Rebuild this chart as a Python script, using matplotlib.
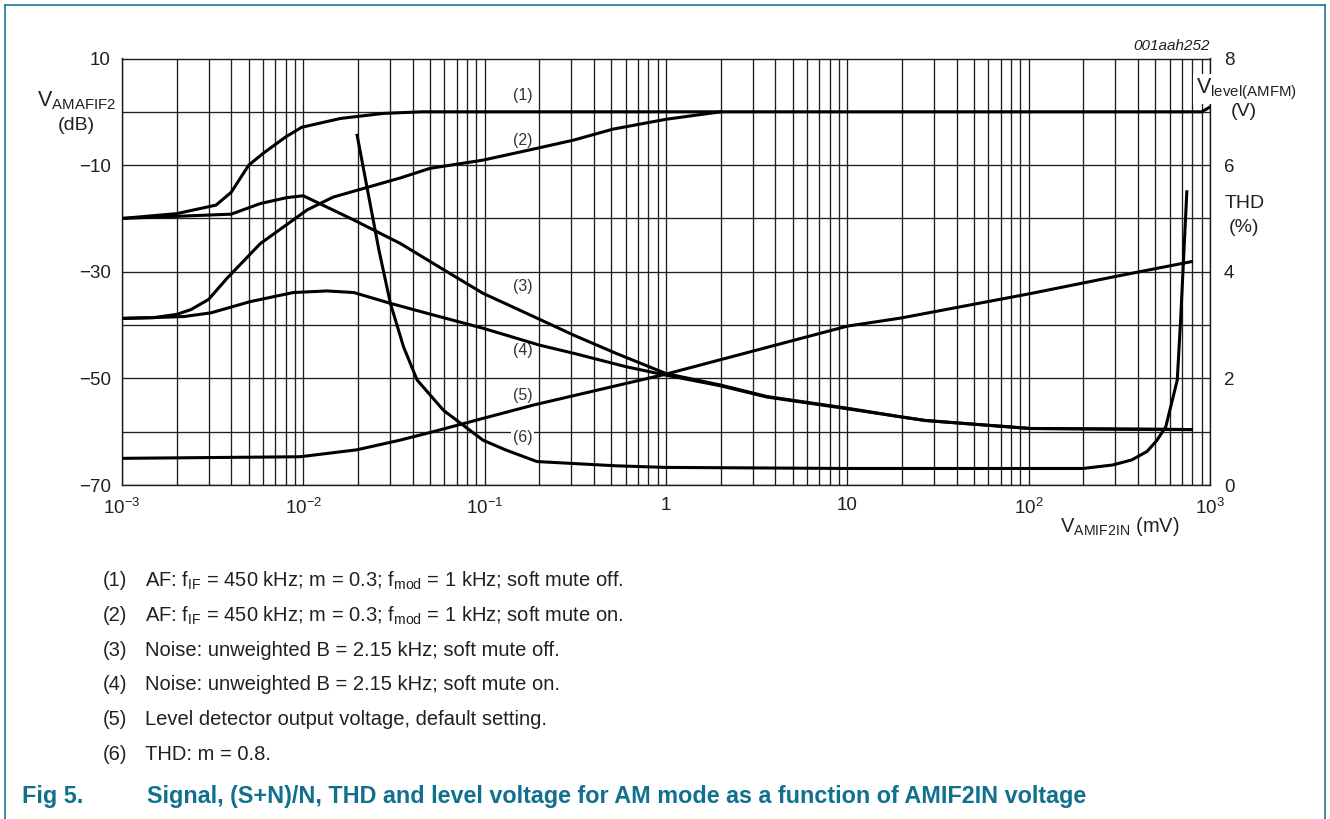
import matplotlib
matplotlib.use('Agg')
import matplotlib.pyplot as plt
from matplotlib.lines import Line2D
import numpy as np

plt.rcParams['font.family'] = ['Liberation Sans', 'DejaVu Sans']
plt.rcParams['mathtext.fontset'] = 'custom'
plt.rcParams['mathtext.rm'] = 'Liberation Sans'
plt.rcParams['mathtext.it'] = 'Liberation Sans:italic'
plt.rcParams['mathtext.bf'] = 'Liberation Sans:bold'

# ---------------- data ----------------
# (1) AF, soft mute off  [dB]
x1 = [0.001, 0.002, 0.0033, 0.004, 0.005, 0.006, 0.008, 0.0098, 0.016, 0.0276, 0.045, 0.1, 1, 10, 100, 900, 1000]
y1 = [-20, -19.1, -17.5, -15.1, -10, -7.8, -4.7, -2.9, -1.25, -0.3, 0, 0, 0, 0, 0, 0, 0.9]
# (2) AF, soft mute on  [dB]
x2 = [0.001, 0.0015, 0.002, 0.0024, 0.003, 0.0038, 0.0058, 0.0105, 0.0146, 0.0343, 0.05, 0.098, 0.2, 0.31, 0.51, 1.0, 2.0]
y2 = [-38.75, -38.6, -38.0, -37.1, -35.2, -31.2, -24.7, -18.4, -16.0, -12.4, -10.6, -9.06, -6.75, -5.3, -3.25, -1.4, 0]
# (3) Noise, soft mute off  [dB]
x3 = [0.001, 0.002, 0.004, 0.0058, 0.0081, 0.0100, 0.019, 0.0343, 0.062, 0.098, 0.186, 0.31, 0.53, 1.0, 2.0, 3.6, 10, 19.6, 26.9, 102, 790]
y3 = [-20, -19.6, -19.2, -17.2, -16.1, -15.75, -20.3, -24.7, -30.0, -34.05, -38.4, -41.9, -45.3, -49.1, -51.25, -53.4, -55.6, -57.2, -57.9, -59.4, -59.6]
# (4) Noise, soft mute on  [dB]
x4 = [0.001, 0.0015, 0.0022, 0.0031, 0.0051, 0.0088, 0.0135, 0.019, 0.03, 0.052, 0.098, 0.2, 0.31, 0.6, 1.0, 2.0, 3.6, 10, 19.6, 26.9, 102, 790]
y4 = [-38.75, -38.6, -38.4, -37.7, -35.6, -33.9, -33.6, -33.9, -35.9, -38.1, -40.6, -43.75, -45.3, -47.8, -49.4, -51.4, -53.5, -55.7, -57.2, -57.9, -59.4, -59.6]
# (5) Level detector output voltage  [V]
x5 = [0.001, 0.0096, 0.0197, 0.034, 0.052, 0.098, 0.186, 1.0, 10, 19.6, 102, 310, 790]
v5 = [0.5, 0.53, 0.66, 0.84, 1.0, 1.25, 1.5, 2.08, 2.98, 3.13, 3.59, 3.92, 4.19]
# (6) THD, m = 0.8  [%]
x6 = [0.0198, 0.0261, 0.0302, 0.0357, 0.0424, 0.0593, 0.098, 0.13, 0.194, 0.53, 1.0, 10, 199, 290, 370, 450, 510, 570, 660, 690, 745]
t6 = [6.56, 4.41, 3.41, 2.59, 1.97, 1.4, 0.84, 0.66, 0.44, 0.36, 0.33, 0.31, 0.31, 0.375, 0.47, 0.63, 0.84, 1.09, 1.97, 3.16, 5.5]

x_ticks = [1e-3, 1e-2, 1e-1, 1, 10, 1e2, 1e3]
x_ticklabels = [r'$10^{-3}$', r'$10^{-2}$', r'$10^{-1}$', '1', '10', r'$10^{2}$', r'$10^{3}$']
db_ticks = [-70, -60, -50, -40, -30, -20, -10, 0, 10]
db_ticklabels = ['\u221270', '', '\u221250', '', '\u221230', '', '\u221210', '', '10']
r_ticks = [0, 2, 4, 6, 8]
r_ticklabels = ['0', '2', '4', '6', '8']

curve_labels = ['(1)', '(2)', '(3)', '(4)', '(5)', '(6)']
curve_label_db = [3.0, -5.3, -32.7, -44.7, -53.3, -61.0]

notes = [
    r'AF: f$_{\mathrm{IF}}$ = 450 kHz; m = 0.3; f$_{\mathrm{mod}}$ = 1 kHz; soft mute off.',
    r'AF: f$_{\mathrm{IF}}$ = 450 kHz; m = 0.3; f$_{\mathrm{mod}}$ = 1 kHz; soft mute on.',
    'Noise: unweighted B = 2.15 kHz; soft mute off.',
    'Noise: unweighted B = 2.15 kHz; soft mute on.',
    'Level detector output voltage, default setting.',
    'THD: m = 0.8.',
]
title_num = 'Fig 5.'
title_txt = 'Signal, (S+N)/N, THD and level voltage for AM mode as a function of AMIF2IN voltage'

# ---------------- figure ----------------
W, H = 1330, 819
fig = plt.figure(figsize=(W / 100, H / 100), dpi=100)
TXT = '#231f20'
TEAL = '#11708e'
FS = 13.5

def fx(px):
    return px / W

def fy(py):
    return 1 - py / H

ax = fig.add_axes([fx(122), fy(485), (1210 - 122) / W, (485 - 58.5) / H])
ax.set_xscale('log')
ax.set_xlim(1e-3, 1e3)
ax.set_ylim(-70, 10)
ax.set_yticks(db_ticks)
ax.set_yticklabels(db_ticklabels)
ax.set_xticks(x_ticks)
ax.set_xticklabels(x_ticklabels)
ax.xaxis.set_minor_locator(matplotlib.ticker.LogLocator(base=10, subs=np.arange(2, 10), numticks=100))
ax.xaxis.set_minor_formatter(matplotlib.ticker.NullFormatter())
ax.grid(True, which='both', color='#1e1e1e', lw=0.95)
ax.tick_params(which='both', length=0, labelsize=FS, colors=TXT)
ax.tick_params(axis='x', pad=9)
ax.tick_params(axis='y', pad=8)
for s in ax.spines.values():
    s.set_color('#1a1a1a')
    s.set_linewidth(1.0)

lw = 2.2
ax.plot(x1, y1, color='black', lw=lw, zorder=4)
ax.plot(x2, y2, color='black', lw=lw, zorder=4)
ax.plot(x3, y3, color='black', lw=lw, zorder=4)
ax.plot(x4, y4, color='black', lw=lw, zorder=4)

ax2 = ax.twinx()
ax2.set_ylim(0, 8)
ax2.set_yticks(r_ticks)
ax2.set_yticklabels(r_ticklabels)
ax2.tick_params(length=0, labelsize=FS, colors=TXT, pad=10)
for s in ax2.spines.values():
    s.set_visible(False)
ax2.plot(x5, v5, color='black', lw=lw, zorder=4)
ax2.plot(x6, t6, color='black', lw=lw, zorder=4)

for lab, yv in zip(curve_labels, curve_label_db):
    ax.text(0.162, yv, lab, ha='center', va='center', fontsize=11.5, color='#333333', zorder=3,
            bbox=dict(facecolor='white', edgecolor='none', pad=1.0))

# axis titles
fig.text(fx(77), fy(101), r'V$_{\mathrm{AMAFIF2}}$', ha='center', va='center', fontsize=15.5, color=TXT)
fig.text(fx(76), fy(125), '(dB)', ha='center', va='center', fontsize=14, color=TXT)
fig.text(fx(1246), fy(89), r'V$_{\mathrm{level(AMFM)}}$', ha='center', va='center', fontsize=15.5, color=TXT,
         bbox=dict(facecolor='white', edgecolor='none', pad=1.5))
fig.text(fx(1244), fy(111), '(V)', ha='center', va='center', fontsize=14, color=TXT)
fig.text(fx(1245), fy(203), 'THD', ha='center', va='center', fontsize=14, color=TXT)
fig.text(fx(1244), fy(227), '(%)', ha='center', va='center', fontsize=14, color=TXT)
fig.text(fx(1120), fy(526), r'V$_{\mathrm{AMIF2IN}}$ (mV)', ha='center', va='center', fontsize=14.5, color=TXT)
fig.text(fx(1210), fy(46), '001aah252', ha='right', va='center', fontsize=11, style='italic', color=TXT)

# notes
for i, n in enumerate(notes):
    yy = 581 + i * 34.6
    fig.text(fx(103), fy(yy), '(%d)' % (i + 1), ha='left', va='center', fontsize=14.5, color=TXT)
    fig.text(fx(145), fy(yy), n, ha='left', va='center', fontsize=14.5, color=TXT)

fig.text(fx(22), fy(796), title_num, ha='left', va='center', fontsize=16.8, fontweight='bold', color=TEAL)
fig.text(fx(147), fy(796), title_txt, ha='left', va='center', fontsize=16.8, fontweight='bold', color=TEAL)

# frame
bc = '#1b7896'
fig.add_artist(Line2D([fx(5), fx(1325)], [fy(5), fy(5)], color=bc, lw=1.2))
fig.add_artist(Line2D([fx(5), fx(5)], [fy(5), 0], color=bc, lw=1.2))
fig.add_artist(Line2D([fx(1325), fx(1325)], [fy(5), 0], color=bc, lw=1.2))

fig.savefig('out.png', dpi=100)
